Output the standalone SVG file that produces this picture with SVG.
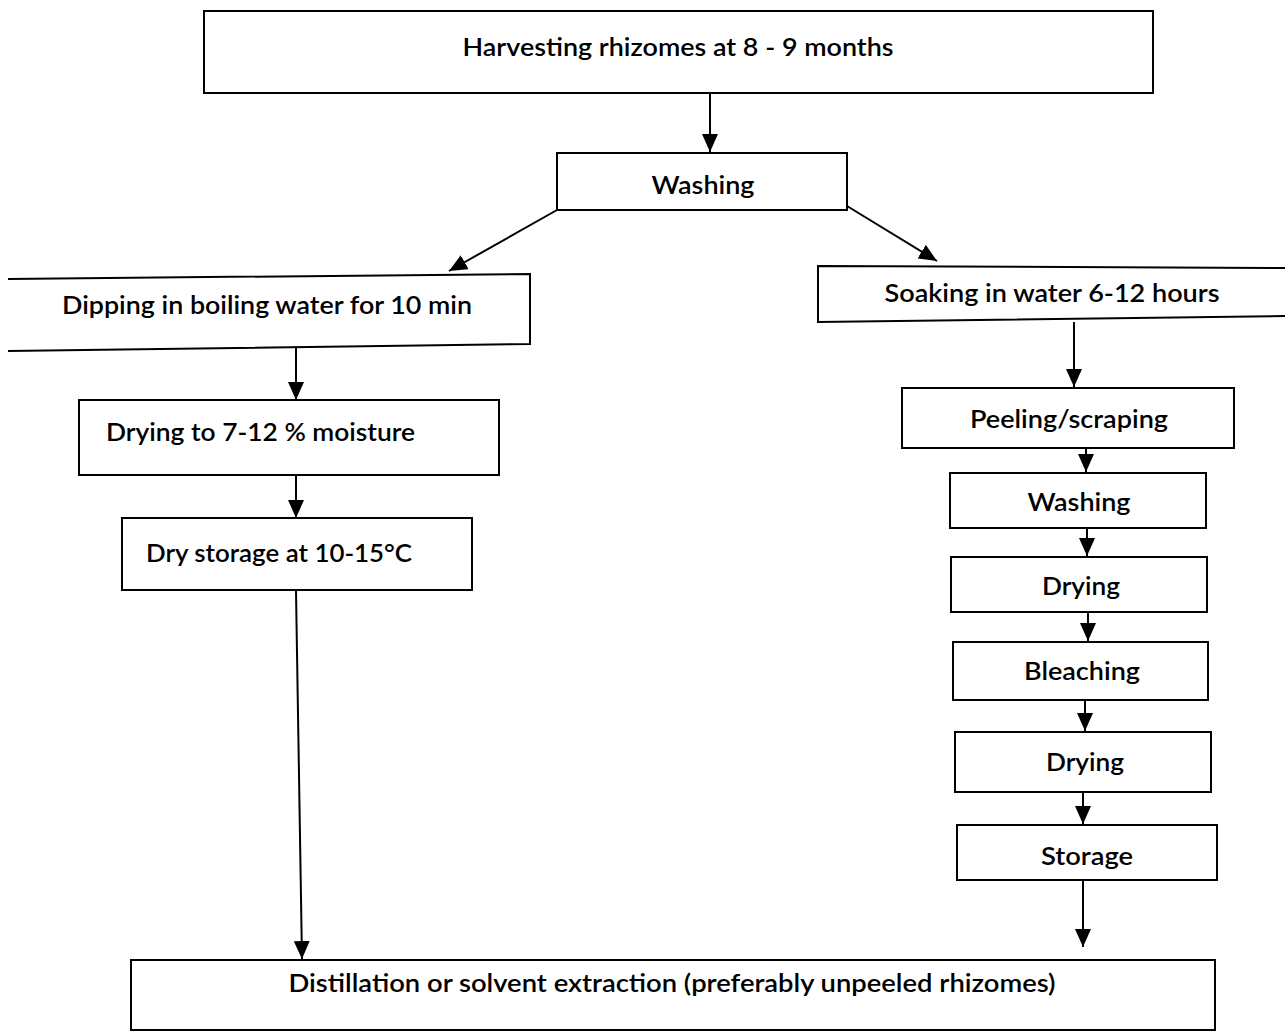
<svg xmlns="http://www.w3.org/2000/svg" width="1285" height="1032" viewBox="0 0 1285 1032">
<style>
.b{fill:none;stroke:#000;stroke-width:2}
.t{font-family:Lato,"Open Sans",sans-serif;font-size:25px;font-weight:600;fill:#000;text-anchor:middle}
.tl{font-family:Lato,"Open Sans",sans-serif;font-size:25px;font-weight:600;fill:#000}
</style>
<defs>
<marker id="ah2" viewBox="0 0 10 10" refX="10" refY="5" markerWidth="18" markerHeight="16" markerUnits="userSpaceOnUse" orient="auto" preserveAspectRatio="none">
<path d="M0,0 L10,5 L0,10 z" fill="#000"/>
</marker>
</defs>
<rect width="1285" height="1032" fill="#fff"/>
<g id="connectors">
<line x1="710" y1="93" x2="710" y2="152" class="b" marker-end="url(#ah2)"/>
<line x1="557" y1="210" x2="449" y2="271" class="b" marker-end="url(#ah2)"/>
<line x1="847" y1="206" x2="937" y2="261" class="b" marker-end="url(#ah2)"/>
<line x1="296" y1="346" x2="296" y2="400" class="b" marker-end="url(#ah2)"/>
<line x1="296" y1="475" x2="296" y2="518" class="b" marker-end="url(#ah2)"/>
<line x1="296" y1="591" x2="302" y2="959" class="b" marker-end="url(#ah2)"/>
<line x1="1074" y1="322" x2="1074" y2="387" class="b" marker-end="url(#ah2)"/>
<line x1="1086" y1="448" x2="1086" y2="472" class="b" marker-end="url(#ah2)"/>
<line x1="1087" y1="528" x2="1087" y2="556" class="b" marker-end="url(#ah2)"/>
<line x1="1088" y1="612" x2="1088" y2="641" class="b" marker-end="url(#ah2)"/>
<line x1="1085" y1="700" x2="1085" y2="731" class="b" marker-end="url(#ah2)"/>
<line x1="1083" y1="792" x2="1083" y2="824" class="b" marker-end="url(#ah2)"/>
<line x1="1083" y1="880" x2="1083" y2="947" class="b" marker-end="url(#ah2)"/>
</g>
<g id="harvest"><rect x="204" y="11" width="949" height="82" class="b"/><text x="678" y="56" class="t" textLength="431" lengthAdjust="spacingAndGlyphs">Harvesting rhizomes at 8 - 9 months</text></g>
<g id="washing1"><rect x="557" y="153" width="290" height="57" class="b"/><text x="703" y="194" class="t" textLength="103" lengthAdjust="spacingAndGlyphs">Washing</text></g>
<g id="dipping"><path d="M8,279 L530,274 L530,344 L8,351" class="b"/><text x="267" y="314" class="t" textLength="410" lengthAdjust="spacingAndGlyphs">Dipping in boiling water for 10 min</text></g>
<g id="soaking"><path d="M1285,268 L818,266 L818,322 L1285,316" class="b"/><text x="1052" y="302" class="t" textLength="335" lengthAdjust="spacingAndGlyphs">Soaking in water 6-12 hours</text></g>
<g id="drying1"><rect x="79" y="400" width="420" height="75" class="b"/><text x="106" y="441" class="tl" textLength="309" lengthAdjust="spacingAndGlyphs">Drying to 7-12 % moisture</text></g>
<g id="drystorage"><rect x="122" y="518" width="350" height="72" class="b"/><text x="146" y="562" class="tl" textLength="266" lengthAdjust="spacingAndGlyphs">Dry storage at 10-15°C</text></g>
<g id="peeling"><rect x="902" y="388" width="332" height="60" class="b"/><text x="1069" y="428" class="t" textLength="198" lengthAdjust="spacingAndGlyphs">Peeling/scraping</text></g>
<g id="washing2"><rect x="950" y="473" width="256" height="55" class="b"/><text x="1079" y="511" class="t" textLength="103" lengthAdjust="spacingAndGlyphs">Washing</text></g>
<g id="drying2"><rect x="951" y="557" width="256" height="55" class="b"/><text x="1081" y="595" class="t" textLength="78" lengthAdjust="spacingAndGlyphs">Drying</text></g>
<g id="bleaching"><rect x="953" y="642" width="255" height="58" class="b"/><text x="1082" y="680" class="t" textLength="116" lengthAdjust="spacingAndGlyphs">Bleaching</text></g>
<g id="drying3"><rect x="955" y="732" width="256" height="60" class="b"/><text x="1085" y="771" class="t" textLength="78" lengthAdjust="spacingAndGlyphs">Drying</text></g>
<g id="storage"><rect x="957" y="825" width="260" height="55" class="b"/><text x="1087" y="865" class="t" textLength="92" lengthAdjust="spacingAndGlyphs">Storage</text></g>
<g id="distillation"><rect x="131" y="960" width="1084" height="70" class="b"/><text x="672" y="992" class="t" textLength="767" lengthAdjust="spacingAndGlyphs">Distillation or solvent extraction (preferably unpeeled rhizomes)</text></g>
</svg>
